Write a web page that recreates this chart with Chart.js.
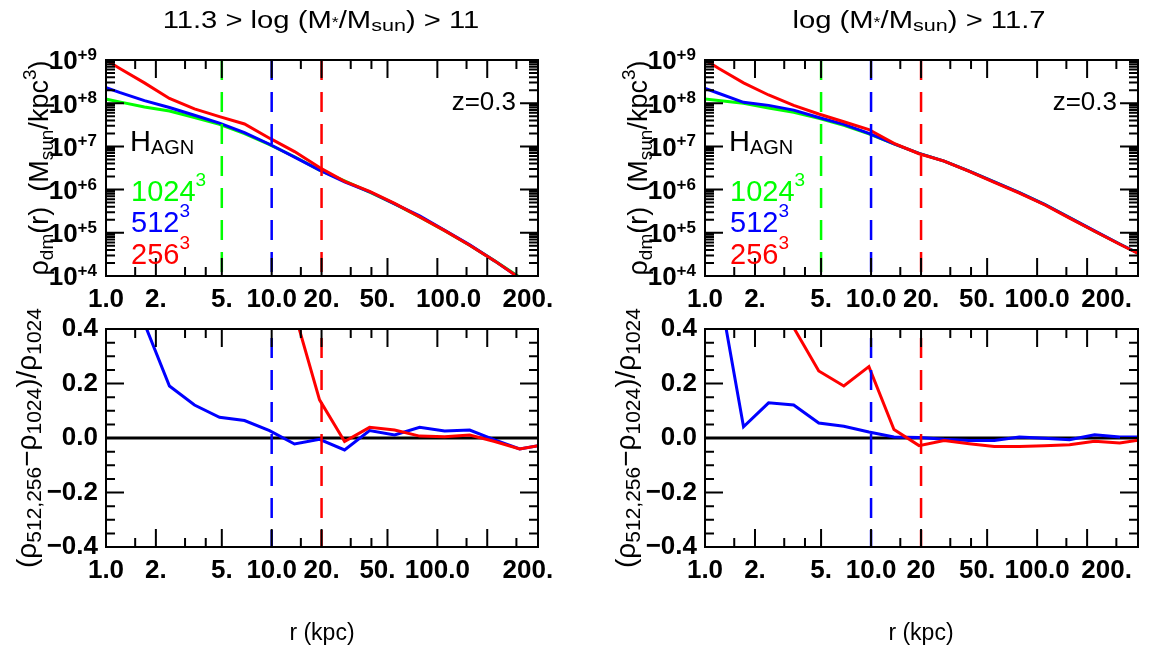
<!DOCTYPE html>
<html>
<head>
<meta charset="utf-8">
<script src="https://cdn.jsdelivr.net/npm/chart.js@4.4.1/dist/chart.umd.min.js"></script>
<style>
body { margin: 0; background: #fff; }
#wrap { position: relative; width: 1156px; height: 650px; overflow: hidden;
        font-family: "Liberation Sans", Arial, Helvetica, sans-serif; color: #000; }
canvas { position: absolute; left: 0; top: 0; }
.t { position: absolute; white-space: nowrap; line-height: 1; }
.c { text-align: center; width: 400px; }
.wide { transform: scaleX(1.27); }
.rot { position: absolute; white-space: nowrap; text-align: center; transform: rotate(-90deg); }
.sub, .sup { position: relative; }
</style>
</head>
<body>
<div id="wrap">
  <canvas id="tl" width="1156" height="650"></canvas>
  <canvas id="bl" width="1156" height="650"></canvas>
  <canvas id="tr" width="1156" height="650"></canvas>
  <canvas id="br" width="1156" height="650"></canvas>

  <!-- titles -->
  <div class="t c wide" style="left:121px;top:9px;font-size:23px">11.3 &gt; log (M<span class="sub" style="font-size:14px;top:-1px">*</span>/M<span class="sub" style="font-size:17px;top:3px">sun</span>) &gt; 11</div>
  <div class="t c wide" style="left:719px;top:9px;font-size:23px">log (M<span class="sub" style="font-size:14px;top:-1px">*</span>/M<span class="sub" style="font-size:17px;top:3px">sun</span>) &gt; 11.7</div>

  <!-- x axis titles -->
  <div class="t c" style="left:122px;top:621px;font-size:23px">r (kpc)</div>
  <div class="t c" style="left:721px;top:621px;font-size:23px">r (kpc)</div>

  <!-- y axis titles -->
  <div class="rot" style="left:-111px;top:154px;width:300px;height:28px;line-height:28px;font-size:27px">&rho;<span class="sub" style="font-size:19px;top:5px">dm</span>(r)&nbsp; (M<span class="sub" style="font-size:19px;top:5px">sun</span>/kpc<span class="sup" style="font-size:19px;top:-12px">3</span>)</div>
  <div class="rot" style="left:-123px;top:424px;width:300px;height:28px;line-height:28px;font-size:28px">(&rho;<span class="sub" style="font-size:21px;top:5px">512,256</span>&minus;&rho;<span class="sub" style="font-size:21px;top:5px">1024</span>)/&rho;<span class="sub" style="font-size:21px;top:5px">1024</span></div>
  <div class="rot" style="left:488px;top:154px;width:300px;height:28px;line-height:28px;font-size:27px">&rho;<span class="sub" style="font-size:19px;top:5px">dm</span>(r)&nbsp; (M<span class="sub" style="font-size:19px;top:5px">sun</span>/kpc<span class="sup" style="font-size:19px;top:-12px">3</span>)</div>
  <div class="rot" style="left:476px;top:424px;width:300px;height:28px;line-height:28px;font-size:28px">(&rho;<span class="sub" style="font-size:21px;top:5px">512,256</span>&minus;&rho;<span class="sub" style="font-size:21px;top:5px">1024</span>)/&rho;<span class="sub" style="font-size:21px;top:5px">1024</span></div>

  <!-- annotations, left -->
  <div class="t" style="right:640px;top:88px;font-size:26px">z=0.3</div>
  <div class="t" style="left:130px;top:127px;font-size:29px">H<span class="sub" style="font-size:20px;top:3px">AGN</span></div>
  <div class="t" style="left:131px;top:177px;font-size:29px;color:#00ff00">1024<span class="sup" style="font-size:19px;top:-15px">3</span></div>
  <div class="t" style="left:131px;top:208px;font-size:29px;color:#0000ff">512<span class="sup" style="font-size:19px;top:-15px">3</span></div>
  <div class="t" style="left:131px;top:240px;font-size:29px;color:#ff0000">256<span class="sup" style="font-size:19px;top:-15px">3</span></div>

  <!-- annotations, right -->
  <div class="t" style="right:39px;top:88px;font-size:26px">z=0.3</div>
  <div class="t" style="left:729px;top:127px;font-size:29px">H<span class="sub" style="font-size:20px;top:3px">AGN</span></div>
  <div class="t" style="left:730px;top:177px;font-size:29px;color:#00ff00">1024<span class="sup" style="font-size:19px;top:-15px">3</span></div>
  <div class="t" style="left:730px;top:208px;font-size:29px;color:#0000ff">512<span class="sup" style="font-size:19px;top:-15px">3</span></div>
  <div class="t" style="left:730px;top:240px;font-size:29px;color:#ff0000">256<span class="sup" style="font-size:19px;top:-15px">3</span></div>
</div>

<script>
// radial bins (kpc), shared by every curve
const r_bins = [0.851, 1.205, 1.706, 2.415, 3.420, 4.842, 6.855, 9.705, 13.74, 19.45,
                27.54, 38.99, 55.21, 78.16, 110.7, 156.7, 221.8, 314.1, 444.6];

// log10 of rho_dm (Msun/kpc^3), 11.3 > log M* > 11
const lgrho_1024_lo = [8.15, 8.03, 7.91, 7.82, 7.67, 7.51, 7.295, 7.04, 6.76, 6.45, 6.20, 5.94, 5.67, 5.37, 5.05, 4.71, 4.35, 3.97, 3.58];
const lgrho_512_lo  = [8.46, 8.25, 8.06, 7.90, 7.72, 7.54, 7.32, 7.05, 6.75, 6.45, 6.18, 5.95, 5.67, 5.39, 5.06, 4.72, 4.35, 3.95, 3.57];
const lgrho_256_lo  = [9.16, 8.81, 8.47, 8.11, 7.87, 7.69, 7.52, 7.19, 6.88, 6.51, 6.19, 5.96, 5.68, 5.37, 5.05, 4.71, 4.35, 3.95, 3.57];

// log10 of rho_dm, log M* > 11.7
const lgrho_1024_hi = [8.13, 8.06, 8.00, 7.89, 7.79, 7.65, 7.49, 7.29, 7.06, 6.84, 6.66, 6.43, 6.18, 5.93, 5.66, 5.35, 5.04, 4.74, 4.45];
const lgrho_512_hi  = [8.44, 8.23, 8.02, 7.95, 7.84, 7.67, 7.51, 7.30, 7.06, 6.84, 6.66, 6.43, 6.18, 5.93, 5.66, 5.35, 5.045, 4.74, 4.45];
const lgrho_256_hi  = [9.17, 8.81, 8.47, 8.19, 7.95, 7.75, 7.57, 7.39, 7.07, 6.83, 6.66, 6.42, 6.17, 5.92, 5.65, 5.34, 5.035, 4.735, 4.448];

// (rho_x - rho_1024) / rho_1024
const diff_512_lo = [1.04, 0.66, 0.42, 0.191, 0.121, 0.076, 0.064, 0.027, -0.022, -0.005, -0.044, 0.027, 0.011, 0.039, 0.026, 0.029, -0.007, -0.04, -0.024];
const diff_256_lo = [8.0, 4.5, 2.7, 1.1, 0.62, 0.52, 0.62, 0.6, 0.46, 0.14, -0.013, 0.039, 0.029, 0.007, 0.005, 0.011, -0.013, -0.04, -0.024];
const diff_512_hi = [0.8, 0.56, 0.041, 0.129, 0.121, 0.055, 0.043, 0.022, 0.004, 0.002, -0.005, -0.009, -0.009, 0.004, -0.001, -0.006, 0.012, 0.004, 0.003];
const diff_256_hi = [3.5, 2.5, 1.5, 0.8, 0.405, 0.246, 0.191, 0.262, 0.031, -0.028, -0.009, -0.021, -0.031, -0.031, -0.028, -0.025, -0.012, -0.018, -0.005];

// resolution limits (kpc)
const r_lim_1024 = 5, r_lim_512 = 10, r_lim_256 = 20;

// axes
const x_min = 1, x_max = 405;
const rho_min = 1e4, rho_max = 1e9;
const diff_min = -0.4, diff_max = 0.4;
const x_major = [1, 2, 5, 10, 20, 50, 100, 200];
const x_minor = [1.5, 3, 4, 15, 30, 40, 150, 300];
const rho_exp = [4, 5, 6, 7, 8, 9];
const diff_major = [-0.4, -0.2, 0, 0.2, 0.4];
const diff_minor = [-0.35, -0.3, -0.25, -0.15, -0.1, -0.05, 0.05, 0.1, 0.15, 0.25, 0.3, 0.35];
const diff_labels = ['\u22120.4', '\u22120.2', '0.0', '0.2', '0.4'];
// where IDL put the x tick labels
const xlab_tl = [1, 2, 5, 10, 20, 43.5, 117, 352];
const xlab_bl = [1, 2, 5, 10, 20, 43.5, 100, 352];
const xlab_r  = [1, 2, 5, 10, 20, 43.5, 100, 262];
const xtxt_l  = ['1.0', '2.', '5.', '10.0', '20.', '50.', '100.0', '200.'];
const xtxt_br = ['1.0', '2.', '5.', '10.0', '20', '50.', '100.0', '200.'];

const GREEN = '#00ff00', BLUE = '#0000ff', RED = '#ff0000';
const FONT = '"Liberation Sans", Arial, Helvetica, sans-serif';

Chart.defaults.font.family = FONT;

// log minor ticks 2..9 in every decade
const rho_minor = [];
for (let e = 4; e < 9; e++) for (let m = 2; m <= 9; m++) rho_minor.push(m * Math.pow(10, e));

function curve(ys, color, log) {
    return {
        data: r_bins.map((x, i) => ({x: x, y: log ? Math.pow(10, ys[i]) : ys[i]})),
        borderColor: color, borderWidth: 3, pointRadius: 0, fill: false, tension: 0
    };
}
function vline(x, y0, y1, color, offset) {
    return {
        data: [{x: x, y: y0}, {x: x, y: y1}],
        borderColor: color, borderWidth: 2.5, borderDash: [20, 12], borderDashOffset: offset,
        pointRadius: 0, fill: false
    };
}

// box, inward ticks on all four sides, and 10^n labels
const frameTicks = {
    id: 'frameTicks',
    afterDatasetsDraw(chart, args, opt) {
        const {ctx, chartArea: a} = chart;
        const x = chart.scales.x, y = chart.scales.y;
        ctx.save();
        ctx.strokeStyle = '#000';
        ctx.lineWidth = 2;
        ctx.beginPath();
        const tx = (vals, len) => vals.forEach(v => {
            const p = x.getPixelForValue(v);
            ctx.moveTo(p, a.bottom); ctx.lineTo(p, a.bottom - len);
            ctx.moveTo(p, a.top); ctx.lineTo(p, a.top + len);
        });
        const ty = (vals, len) => vals.forEach(v => {
            const p = y.getPixelForValue(v);
            ctx.moveTo(a.left, p); ctx.lineTo(a.left + len, p);
            ctx.moveTo(a.right, p); ctx.lineTo(a.right - len, p);
        });
        tx(x_major, 18); tx(x_minor, 9);
        ty(opt.yMajor, 18); ty(opt.yMinor, 9);
        ctx.stroke();
        ctx.strokeRect(a.left, a.top, a.right - a.left, a.bottom - a.top);

        if (opt.powers) {
            ctx.fillStyle = '#000';
            ctx.textBaseline = 'alphabetic';
            ctx.textAlign = 'left';
            opt.powers.forEach(e => {
                const p = y.getPixelForValue(Math.pow(10, e));
                const sup = '+' + e;
                ctx.font = 'bold 17px ' + FONT;
                const ws = ctx.measureText(sup).width;
                const right = a.left - 9;
                ctx.fillText(sup, right - ws, p);
                ctx.font = 'bold 26px ' + FONT;
                const wm = ctx.measureText('10').width;
                ctx.fillText('10', right - ws - wm, p + 9.3);
            });
        }
        ctx.restore();
    }
};

function panel(id, frame, datasets, top, xlab, xtxt) {
    const YW = 60, XH = 40;
    const yScale = top ? {
        type: 'logarithmic', min: rho_min, max: rho_max,
        ticks: {display: false}
    } : {
        type: 'linear', min: diff_min, max: diff_max,
        afterBuildTicks: s => { s.ticks = diff_major.map(v => ({value: v})); },
        ticks: {
            padding: 8, color: '#000', font: {size: 26, weight: 'bold'},
            callback: (v, i) => diff_labels[i]
        }
    };
    yScale.grid = {display: false, drawTicks: false};
    yScale.border = {display: false};
    yScale.afterFit = s => { s.width = YW; s.paddingTop = 0; s.paddingBottom = 0; };

    return new Chart(document.getElementById(id), {
        type: 'line',
        data: {datasets: datasets},
        options: {
            responsive: false,
            animation: false,
            layout: {padding: {left: frame.l - YW, top: frame.t, right: 1156 - frame.r, bottom: 650 - frame.b - XH}},
            plugins: {
                legend: {display: false},
                tooltip: {enabled: false},
                frameTicks: top
                    ? {yMajor: rho_exp.map(e => Math.pow(10, e)), yMinor: rho_minor, powers: rho_exp}
                    : {yMajor: diff_major, yMinor: diff_minor}
            },
            scales: {
                x: {
                    type: 'logarithmic', min: x_min, max: x_max,
                    grid: {display: false, drawTicks: false},
                    border: {display: false},
                    afterBuildTicks: s => { s.ticks = xlab.map(v => ({value: v})); },
                    afterFit: s => { s.height = XH; s.paddingLeft = 0; s.paddingRight = 0; },
                    ticks: {
                        autoSkip: false, maxRotation: 0, minRotation: 0, padding: 8,
                        color: '#000', font: {size: 26, weight: 'bold'},
                        callback: (v, i) => xtxt[i]
                    }
                },
                y: yScale
            }
        },
        plugins: [frameTicks]
    });
}

// top left
panel('tl', {l: 106, t: 60, r: 538, b: 276}, [
    vline(r_lim_1024, rho_max, rho_min, GREEN, 0),
    vline(r_lim_512, rho_max, rho_min, BLUE, 0),
    vline(r_lim_256, rho_max, rho_min, RED, 0),
    curve(lgrho_256_lo, RED, true),
    curve(lgrho_512_lo, BLUE, true),
    curve(lgrho_1024_lo, GREEN, true)
], true, xlab_tl, xtxt_l);

// bottom left
panel('bl', {l: 106, t: 329, r: 538, b: 547}, [
    vline(r_lim_512, diff_max, diff_min, BLUE, 23),
    vline(r_lim_256, diff_max, diff_min, RED, 23),
    curve(diff_256_lo, RED, false),
    curve(diff_512_lo, BLUE, false),
    {data: [{x: x_min, y: 0}, {x: x_max, y: 0}], borderColor: '#000', borderWidth: 3, pointRadius: 0}
], false, xlab_bl, xtxt_l);

// top right
panel('tr', {l: 705, t: 60, r: 1138, b: 276}, [
    vline(r_lim_1024, rho_max, rho_min, GREEN, 0),
    vline(r_lim_512, rho_max, rho_min, BLUE, 0),
    vline(r_lim_256, rho_max, rho_min, RED, 0),
    curve(lgrho_256_hi, RED, true),
    curve(lgrho_512_hi, BLUE, true),
    curve(lgrho_1024_hi, GREEN, true)
], true, xlab_r, xtxt_l);

// bottom right
panel('br', {l: 705, t: 329, r: 1138, b: 547}, [
    vline(r_lim_512, diff_max, diff_min, BLUE, 23),
    vline(r_lim_256, diff_max, diff_min, RED, 23),
    curve(diff_256_hi, RED, false),
    curve(diff_512_hi, BLUE, false),
    {data: [{x: x_min, y: 0}, {x: x_max, y: 0}], borderColor: '#000', borderWidth: 3, pointRadius: 0}
], false, xlab_r, xtxt_br);
</script>
</body>
</html>
